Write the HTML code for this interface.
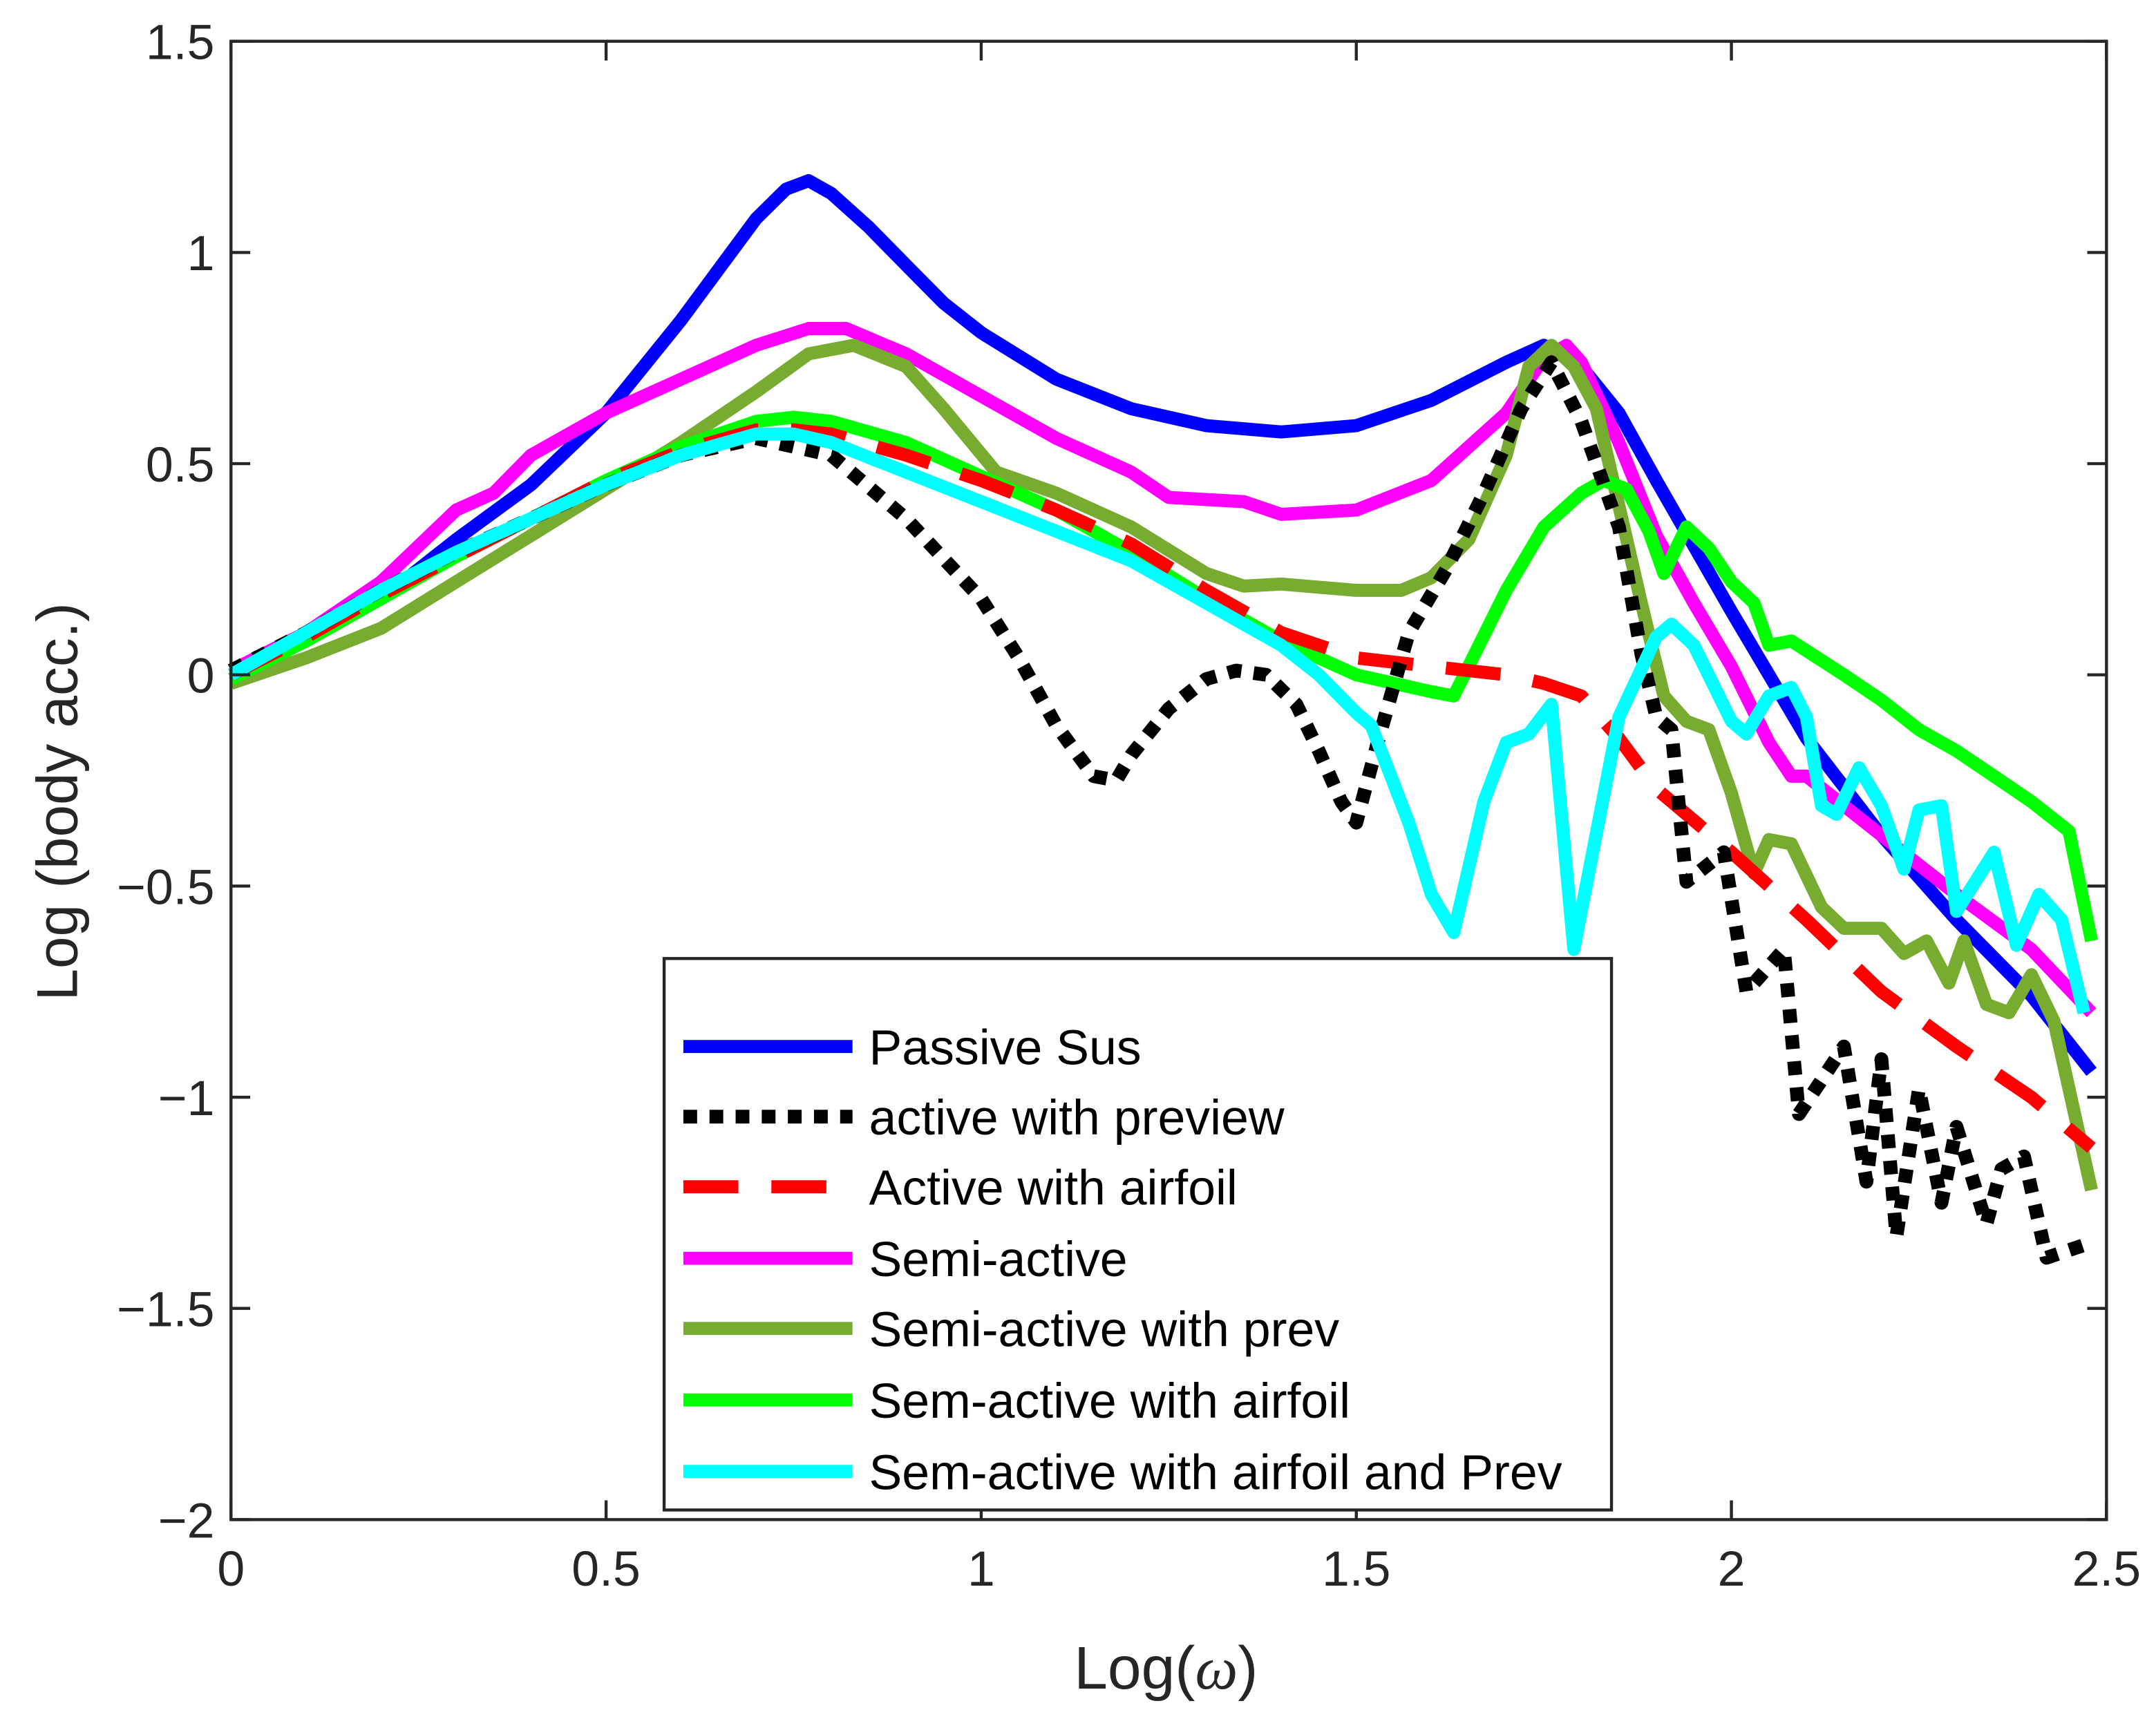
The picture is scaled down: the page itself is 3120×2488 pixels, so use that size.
<!DOCTYPE html>
<html><head><meta charset="utf-8"><style>
html,body{margin:0;padding:0;background:#fff;}
svg{display:block;}
text{font-family:"Liberation Sans",sans-serif;fill:#262626;}
</style></head><body>
<svg id="chart" width="3120" height="2488" viewBox="0 0 1568 1250" preserveAspectRatio="none" xmlns="http://www.w3.org/2000/svg">
<rect width="1568" height="1250" fill="#fff"/>
<g id="series"></g>
<g id="axes"></g>
<g id="legend"></g>
</svg>
<script>
const xTicks = [0, 0.5, 1, 1.5, 2, 2.5];
const xTickLabels = ["0", "0.5", "1", "1.5", "2", "2.5"];
const yTicks = [-2, -1.5, -1, -0.5, 0, 0.5, 1, 1.5];
const yTickLabels = ["\u22122", "\u22121.5", "\u22121", "\u22120.5", "0", "0.5", "1", "1.5"];
const seriesNames = ["Passive Sus","active with preview","Active with airfoil","Semi-active","Semi-active with prev","Sem-active with airfoil","Sem-active with airfoil and Prev"];

const passiveX = [0,0.1,0.2,0.3,0.4,0.5,0.6,0.65,0.7,0.74,0.77,0.8,0.85,0.9,0.95,1.0,1.1,1.2,1.3,1.4,1.5,1.6,1.7,1.75,1.8,1.85,1.9,2.0,2.05,2.1,2.2,2.3,2.4,2.48];
const passiveY = [0,0.08,0.18,0.32,0.45,0.62,0.84,0.96,1.08,1.15,1.17,1.14,1.06,0.97,0.88,0.81,0.70,0.63,0.59,0.575,0.59,0.65,0.74,0.78,0.73,0.62,0.46,0.15,0.0,-0.15,-0.38,-0.58,-0.76,-0.94];

const previewX = [0,0.1,0.2,0.3,0.4,0.5,0.6,0.7,0.8,0.9,1.0,1.05,1.1,1.15,1.18,1.2,1.25,1.3,1.34,1.38,1.42,1.45,1.48,1.5,1.53,1.57,1.62,1.67,1.72,1.76,1.8,1.85,1.88,1.9,1.92,1.94,1.99,2.02,2.07,2.09,2.15,2.18,2.2,2.22,2.25,2.28,2.3,2.34,2.36,2.39,2.42,2.47];
const previewY = [0.01,0.1,0.2,0.29,0.37,0.45,0.52,0.56,0.52,0.37,0.18,0.04,-0.12,-0.24,-0.25,-0.19,-0.08,-0.01,0.01,0.0,-0.07,-0.18,-0.30,-0.35,-0.15,0.1,0.25,0.43,0.63,0.74,0.6,0.35,0.05,-0.1,-0.13,-0.49,-0.42,-0.75,-0.65,-1.04,-0.88,-1.2,-0.91,-1.33,-0.98,-1.25,-1.07,-1.30,-1.17,-1.14,-1.38,-1.35];

const airfoilX = [0,0.1,0.2,0.3,0.4,0.5,0.6,0.7,0.75,0.8,0.9,1.0,1.1,1.2,1.3,1.4,1.5,1.6,1.7,1.75,1.8,1.85,1.9,2.0,2.1,2.2,2.3,2.4,2.48];
const airfoilY = [0,0.09,0.19,0.28,0.37,0.46,0.53,0.58,0.58,0.57,0.52,0.46,0.39,0.31,0.2,0.1,0.04,0.02,0.0,-0.02,-0.05,-0.15,-0.27,-0.42,-0.58,-0.75,-0.88,-1.0,-1.12];

const semiX = [0,0.1,0.2,0.3,0.35,0.4,0.5,0.6,0.7,0.77,0.82,0.9,1.0,1.1,1.2,1.25,1.35,1.4,1.5,1.6,1.7,1.75,1.78,1.8,1.85,1.9,1.95,2.0,2.05,2.08,2.1,2.2,2.3,2.4,2.48];
const semiY = [0.01,0.1,0.22,0.39,0.43,0.52,0.62,0.70,0.78,0.82,0.82,0.76,0.66,0.56,0.48,0.42,0.41,0.38,0.39,0.46,0.62,0.75,0.78,0.74,0.55,0.33,0.17,0.02,-0.16,-0.24,-0.24,-0.38,-0.52,-0.65,-0.80];

const semiPrevX = [0,0.1,0.2,0.3,0.4,0.5,0.6,0.7,0.77,0.83,0.9,0.95,1.02,1.1,1.2,1.3,1.35,1.4,1.5,1.56,1.6,1.65,1.7,1.73,1.76,1.79,1.82,1.85,1.88,1.91,1.94,1.97,2.0,2.03,2.05,2.08,2.12,2.15,2.2,2.23,2.26,2.29,2.31,2.34,2.37,2.4,2.43,2.48];
const semiPrevY = [-0.02,0.04,0.11,0.22,0.33,0.44,0.55,0.67,0.76,0.78,0.73,0.63,0.48,0.43,0.35,0.24,0.21,0.215,0.2,0.20,0.23,0.32,0.52,0.73,0.78,0.73,0.63,0.40,0.17,-0.05,-0.11,-0.13,-0.28,-0.47,-0.39,-0.40,-0.55,-0.60,-0.60,-0.66,-0.63,-0.73,-0.63,-0.78,-0.80,-0.71,-0.82,-1.22];

const semiAirX = [0,0.1,0.2,0.3,0.4,0.5,0.6,0.7,0.75,0.8,0.9,1.0,1.1,1.2,1.3,1.4,1.5,1.6,1.63,1.7,1.75,1.8,1.83,1.86,1.89,1.91,1.94,1.97,2.0,2.03,2.05,2.08,2.15,2.2,2.25,2.3,2.35,2.4,2.45,2.48];
const semiAirY = [-0.01,0.08,0.18,0.28,0.37,0.46,0.54,0.60,0.61,0.60,0.55,0.47,0.39,0.29,0.18,0.08,0.0,-0.04,-0.05,0.2,0.35,0.43,0.46,0.44,0.34,0.24,0.35,0.30,0.22,0.17,0.07,0.08,0.0,-0.06,-0.13,-0.18,-0.24,-0.30,-0.37,-0.63];

const semiAirPrevX = [0,0.1,0.2,0.3,0.4,0.5,0.6,0.7,0.75,0.8,0.9,1.0,1.1,1.2,1.3,1.4,1.45,1.5,1.52,1.57,1.6,1.63,1.67,1.7,1.73,1.76,1.79,1.85,1.9,1.92,1.95,2.0,2.02,2.05,2.08,2.1,2.12,2.14,2.17,2.2,2.23,2.25,2.28,2.3,2.35,2.38,2.41,2.44,2.47];
const semiAirPrevY = [0.0,0.1,0.2,0.29,0.37,0.45,0.52,0.57,0.57,0.55,0.48,0.41,0.34,0.27,0.17,0.07,0.0,-0.09,-0.12,-0.35,-0.52,-0.61,-0.3,-0.16,-0.14,-0.07,-0.65,-0.1,0.09,0.12,0.07,-0.11,-0.14,-0.05,-0.03,-0.1,-0.31,-0.33,-0.22,-0.31,-0.46,-0.32,-0.31,-0.56,-0.42,-0.64,-0.52,-0.58,-0.80];

const X0=168, X1=1532, Y0=1105, Y1=30;
function sx(v){return X0+(v-0)/(2.5-0)*(X1-X0);}
function sy(v){return Y0-(v-(-2))/(1.5-(-2))*(Y0-Y1);}
const NS="http://www.w3.org/2000/svg";
function mk(tag,attrs,parent){const e=document.createElementNS(NS,tag);for(const k in attrs)e.setAttribute(k,attrs[k]);parent.appendChild(e);return e;}

const styles = [
 {c:"#0000ff",d:null},
 {c:"#000000",d:"10 9"},
 {c:"#ff0000",d:"40 24"},
 {c:"#ff00ff",d:null},
 {c:"#77ac30",d:null},
 {c:"#00ff00",d:null},
 {c:"#00ffff",d:null}
];
const allX=[passiveX,previewX,airfoilX,semiX,semiPrevX,semiAirX,semiAirPrevX];
const allY=[passiveY,previewY,airfoilY,semiY,semiPrevY,semiAirY,semiAirPrevY];
const seriesG=document.getElementById('series');
const order=[0,3,4,5,2,1,6];
const sNames=["passive-sus-line","active-preview-line","active-airfoil-line","semi-active-line","semi-active-prev-line","semi-active-airfoil-line","semi-active-airfoil-prev-line"];
order.forEach(i=>{
  const pts=allX[i].map((x,j)=>sx(x).toFixed(1)+","+sy(allY[i][j]).toFixed(1)).join(" ");
  const a={points:pts,fill:"none",stroke:styles[i].c,"stroke-width":i===1?10:9.5,"stroke-linejoin":"round"};
  if(styles[i].d)a["stroke-dasharray"]=styles[i].d;
  const el=mk('polyline',a,seriesG);
  
  
});

const ax=document.getElementById('axes');
const frame=mk('rect',{x:X0,y:Y1,width:X1-X0,height:Y0-Y1,fill:"none",stroke:"#262626","stroke-width":2.2},ax);


xTicks.forEach((t,i)=>{
  const x=sx(t);
  mk('line',{x1:x,y1:Y0,x2:x,y2:Y0-14,stroke:"#262626","stroke-width":2.2},ax);
  mk('line',{x1:x,y1:Y1,x2:x,y2:Y1+14,stroke:"#262626","stroke-width":2.2},ax);
  const tx=mk('text',{x:x,y:Y0+48,"text-anchor":"middle","font-size":36},ax);
  tx.textContent=xTickLabels[i];
  
  
});
yTicks.forEach((t,i)=>{
  const y=sy(t);
  mk('line',{x1:X0,y1:y,x2:X0+14,y2:y,stroke:"#262626","stroke-width":2.2},ax);
  mk('line',{x1:X1,y1:y,x2:X1-14,y2:y,stroke:"#262626","stroke-width":2.2},ax);
  const tx=mk('text',{x:X0-12,y:y+13,"text-anchor":"end","font-size":36},ax);
  tx.textContent=yTickLabels[i];
  
  
});
const xl=mk('text',{x:848,y:1228,"text-anchor":"middle","font-size":44},ax);
xl.innerHTML='Log(<tspan font-family="Liberation Serif" font-style="italic">ω</tspan>)';


const yl=mk('text',{x:0,y:0,"text-anchor":"middle","font-size":42,transform:"translate(56,583) rotate(-90)"},ax);
yl.textContent='Log (body acc.)';



const lg=document.getElementById('legend');
const box=mk('rect',{x:483,y:697,width:689,height:401,fill:"#fff",stroke:"#262626","stroke-width":2.2},lg);


const rows=[762,813,864,916,967,1019,1071];
seriesNames.forEach((n,i)=>{
  const y=rows[i]-1;
  const a={x1:497,y1:y,x2:620,y2:y,stroke:styles[i].c,"stroke-width":i===1?10:9.5};
  if(styles[i].d)a["stroke-dasharray"]=styles[i].d;
  const ln=mk('line',a,lg);
  
  
  const t=mk('text',{x:632,y:rows[i]+12,"font-size":36,textLength:0,style:"fill:#000"},lg);
  t.removeAttribute('textLength');
  t.textContent=n;
  
  
});
</script>
</body></html>
